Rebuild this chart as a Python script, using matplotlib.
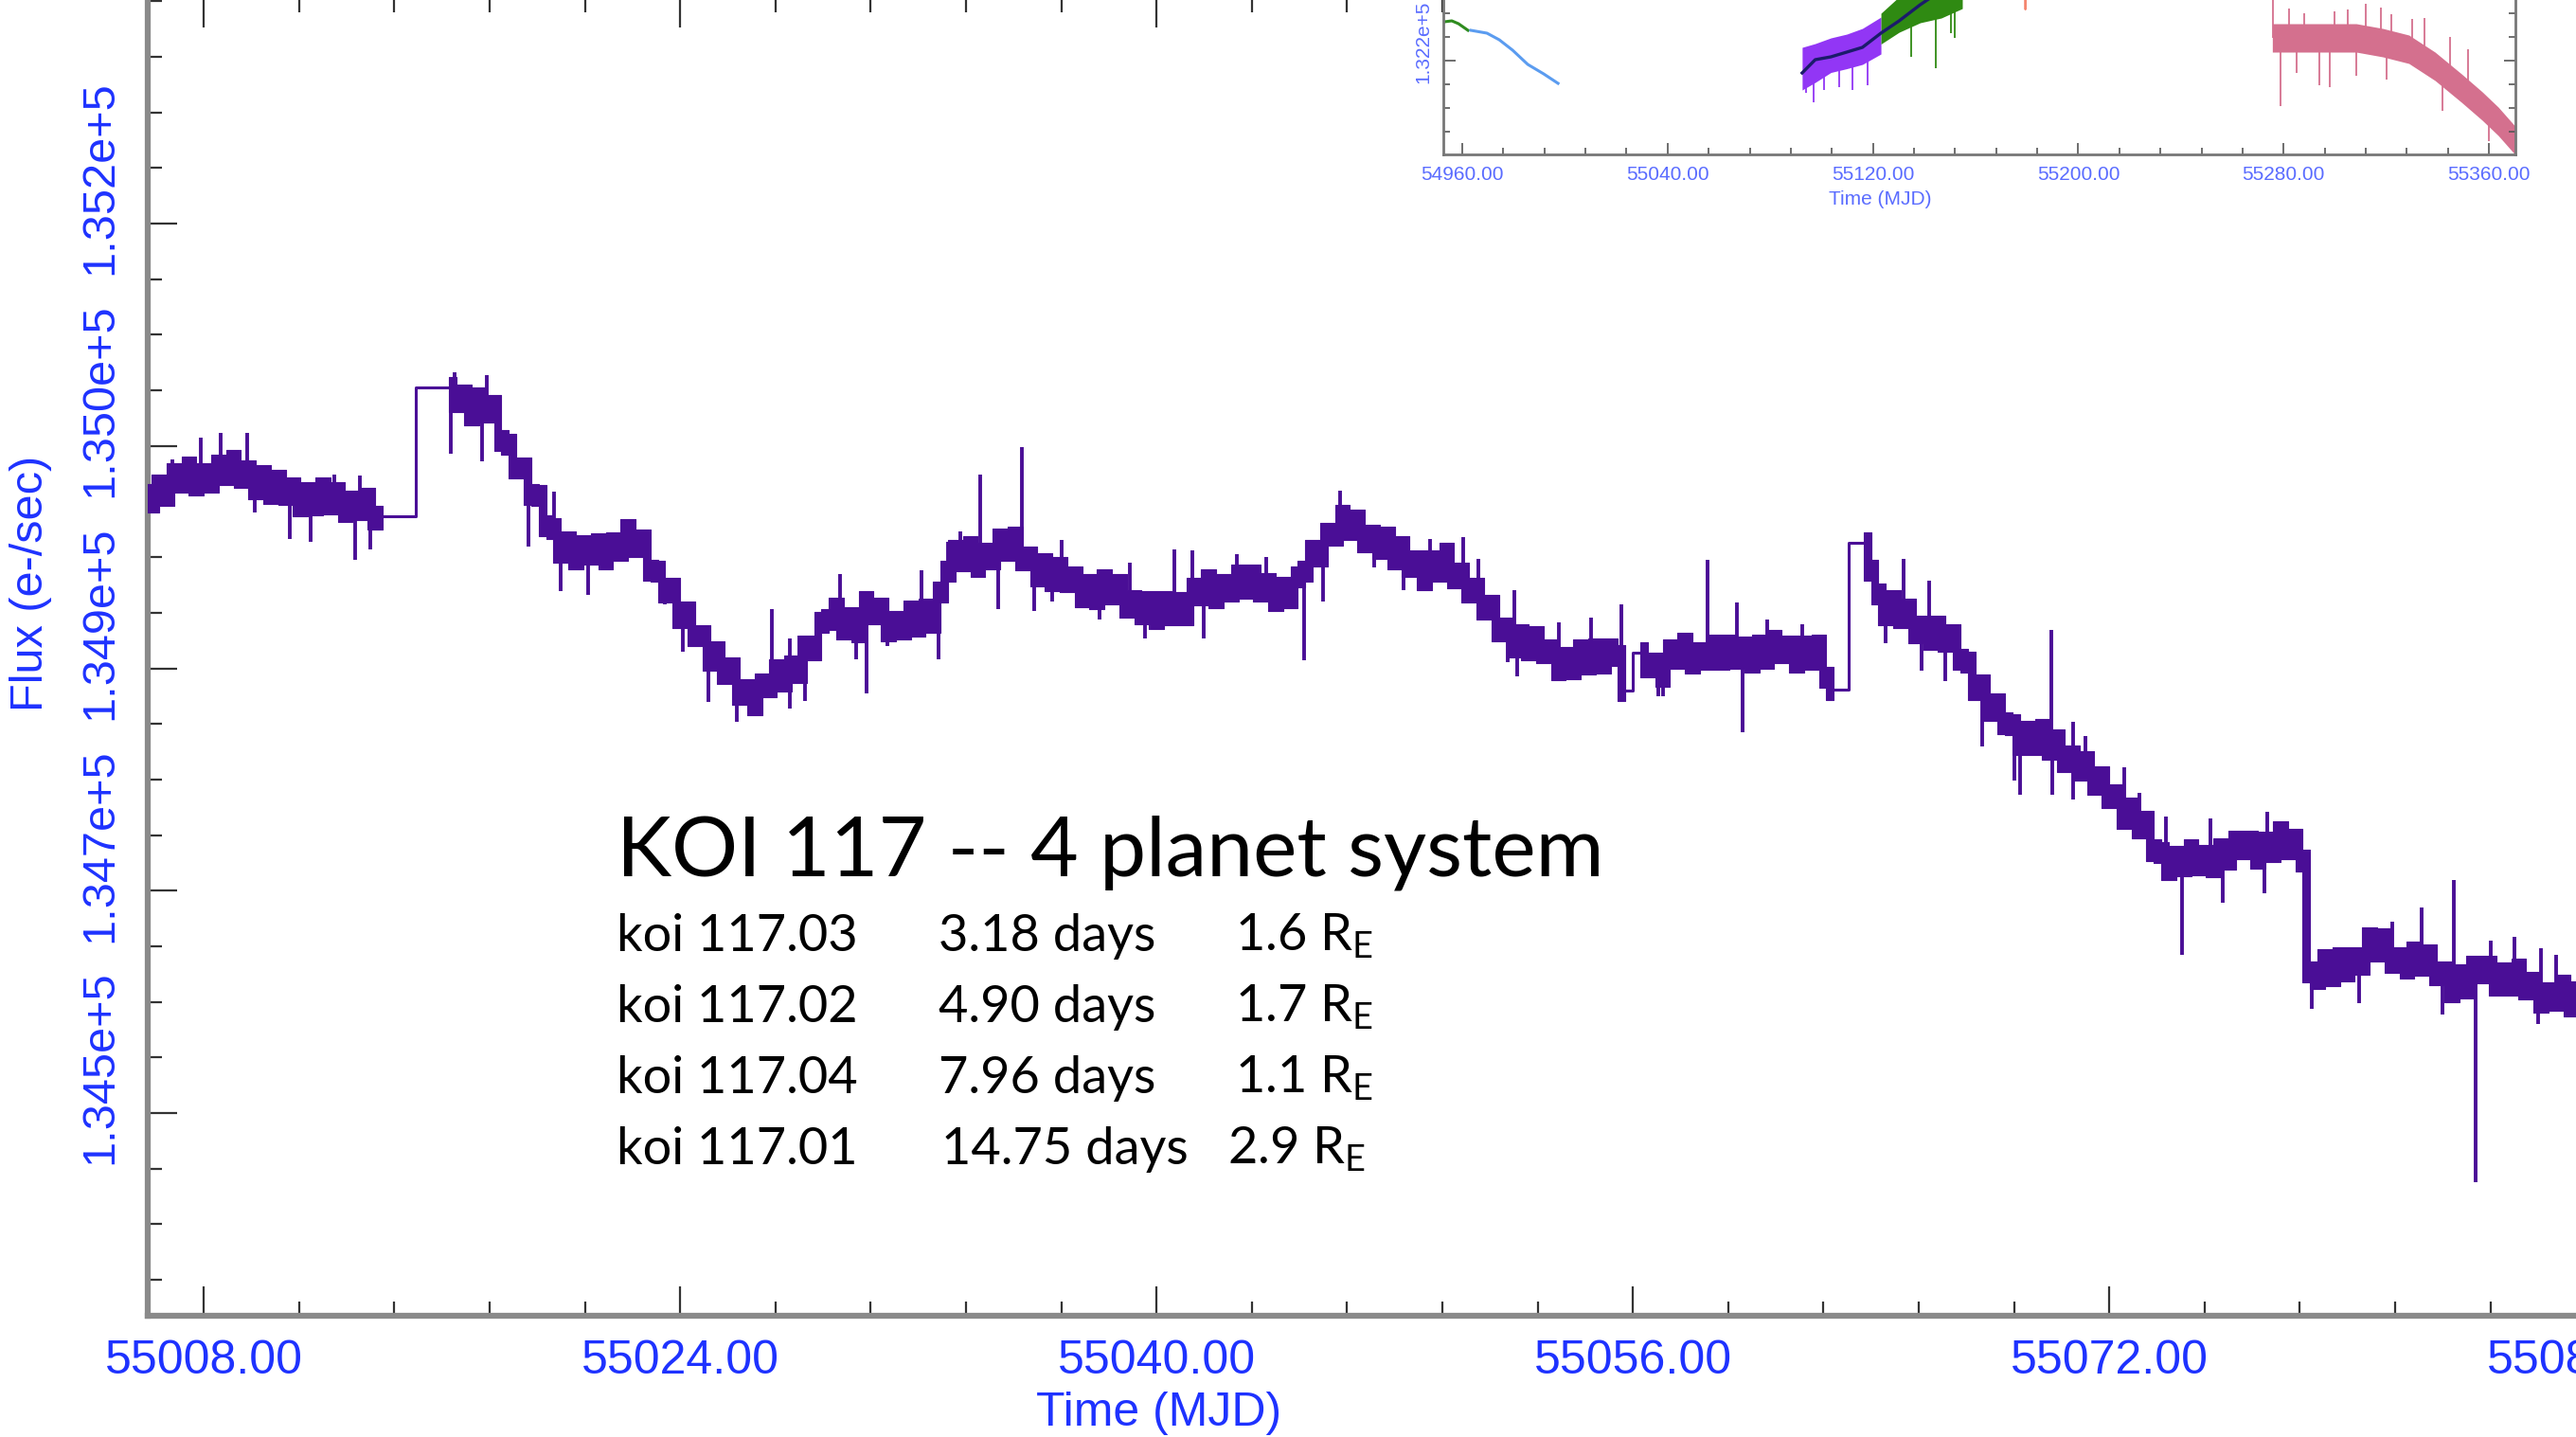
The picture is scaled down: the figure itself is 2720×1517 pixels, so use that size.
import numpy as np
import matplotlib
matplotlib.use("Agg")
import matplotlib.pyplot as plt
import matplotlib.transforms as mtransforms
from matplotlib.ticker import MultipleLocator, FixedLocator, FuncFormatter, NullFormatter

plt.rcParams["mathtext.fontset"] = "custom"
plt.rcParams["mathtext.rm"] = "Lato"
plt.rcParams["mathtext.it"] = "Lato:italic"
plt.rcParams["mathtext.bf"] = "Lato:bold"

# ---------------- main light curve (binned, 0.25 d cadence) ----------------
CADENCE = 0.25
seg_starts = [55006.0, 55016.25, 55056.25, 55063.75]

flux_a = [135003, 134997, 135010, 135002, 135019, 135012, 135024, 135010, 135019,
          135012, 135025, 135018, 135029, 135016, 135021, 135007, 135017, 135004,
          135014, 135003, 135008, 134994, 135004, 134995, 135008, 134996, 135004,
          134990, 134998, 134991, 135000, 134984, 134986]

flux_b = [135085, 135074, 135079, 135064, 135077, 135066, 135071, 135044, 135041,
          135023, 135023, 135003, 135002, 134979, 134977, 134959, 134967, 134954,
          134964, 134957, 134965, 134954, 134966, 134960, 134976, 134963, 134968,
          134945, 134944, 134928, 134931, 134909,
          134913, 134895, 134895, 134876, 134883, 134866, 134870, 134850, 134854,
          134842, 134858, 134856, 134869, 134860, 134872, 134867, 134887, 134884,
          134905, 134907, 134916, 134900, 134909, 134898, 134921, 134912, 134916,
          134899, 134906, 134900, 134914, 134902,
          134915, 134905, 134928, 134944, 134960, 134952, 134963, 134948, 134958,
          134954, 134969, 134960, 134970, 134953, 134955, 134941, 134950, 134937,
          134947, 134936, 134940, 134925, 134934, 134923, 134938, 134927, 134934,
          134917, 134922, 134912, 134921, 134908,
          134921, 134911, 134920, 134911, 134931, 134926, 134938, 134924, 134934,
          134929, 134941, 134931, 134941, 134929, 134935, 134922, 134932, 134924,
          134940, 134944, 134960, 134956, 134973, 134972, 134987, 134976, 134983,
          134967, 134972, 134962, 134970, 134954,
          134963, 134948, 134952, 134938, 134952, 134944, 134958, 134939, 134943,
          134928, 134931, 134915, 134918, 134899, 134901, 134886, 134896, 134884,
          134894, 134882, 134884, 134869, 134878, 134870, 134884, 134873, 134885,
          134874, 134885, 134880, 134853]

flux_c = [134882, 134871, 134874, 134864, 134884, 134878, 134889, 134874, 134882,
          134877, 134888, 134877, 134888, 134878, 134886, 134875, 134888, 134878,
          134891, 134882, 134887, 134875, 134887, 134877, 134888, 134863, 134854]

flux_d = [134966, 134945, 134927, 134911, 134922, 134909, 134915, 134897, 134902,
          134892, 134902, 134891, 134896, 134877, 134875, 134854, 134857, 134838,
          134843, 134828, 134827, 134812, 134822, 134812, 134823, 134808, 134815,
          134799, 134803, 134792, 134799, 134781,
          134787, 134771, 134773, 134755, 134763, 134748, 134753, 134731, 134729,
          134716, 134726, 134719, 134731, 134720, 134727, 134718, 134732, 134724,
          134738, 134732, 134738, 134725, 134737, 134730, 134745, 134732, 134739,
          134723, 134638, 134633, 134647, 134635,
          134649, 134639, 134649, 134644, 134664, 134654, 134663, 134645, 134649,
          134641, 134653, 134643, 134651, 134636, 134638, 134623, 134636, 134626,
          134642, 134637, 134642, 134628, 134637, 134628, 134640, 134625, 134630,
          134615, 134622, 134616, 134628, 134612, 134623, 134611, 134618, 134606]

# single-cadence outliers (upward) and dips (downward), MJD / e-/s
spike_up_time = [55006.96, 55007.90, 55008.56, 55009.45, 55012.40, 55013.25,
                 55016.44, 55017.50, 55018.40, 55019.76, 55022.40, 55027.09,
                 55027.70, 55028.00, 55029.37, 55032.10, 55033.00, 55033.40,
                 55034.07, 55035.47, 55036.80, 55039.10, 55040.60, 55041.20,
                 55042.70, 55043.70, 55046.16, 55049.20, 55050.30, 55050.80,
                 55052.03, 55053.50, 55054.60, 55055.60, 55058.52, 55059.48,
                 55060.50, 55061.70, 55065.09, 55065.94, 55070.05, 55070.80,
                 55071.20, 55072.50, 55073.00, 55073.90, 55075.40, 55077.30,
                 55080.60, 55081.50, 55082.49, 55083.59, 55084.80, 55085.60,
                 55086.50, 55087.00]
spike_up_flux = [135030, 135046, 135050, 135050, 135018, 135017,
                 135096, 135094, 135043, 135005, 134979, 134915,
                 134893, 134895, 134942, 134945, 134967, 134975,
                 135018, 135039, 134968, 134951, 134961, 134960,
                 134957, 134955, 135006, 134969, 134970, 134954,
                 134930, 134905, 134909, 134919, 134953, 134920,
                 134907, 134904, 134954, 134937, 134899, 134829,
                 134818, 134794, 134775, 134757, 134755, 134760,
                 134670, 134676, 134687, 134708, 134662, 134665,
                 134656, 134651]
spike_down_time = [55009.70, 55010.90, 55011.60, 55013.09, 55013.60, 55016.30,
                   55017.36, 55018.90, 55020.00, 55020.90, 55023.50, 55024.10,
                   55024.95, 55025.90, 55027.70, 55028.20, 55029.90, 55030.26,
                   55030.95, 55032.67, 55034.70, 55035.90, 55036.50, 55038.10,
                   55039.60, 55041.60, 55044.96, 55045.60, 55047.30, 55048.30,
                   55051.80, 55052.10, 55056.85, 55057.00, 55059.69, 55064.50,
                   55065.70, 55066.50, 55067.72, 55068.80, 55069.00, 55070.10,
                   55070.80, 55074.46, 55075.80, 55077.20, 55078.80, 55080.40,
                   55083.20, 55084.32, 55086.40]
spike_down_flux = [134989, 134969, 134967, 134953, 134961, 135034,
                   135028, 134963, 134929, 134926, 134919, 134883,
                   134844, 134829, 134839, 134845, 134877, 134851,
                   134887, 134877, 134915, 134914, 134921, 134907,
                   134893, 134893, 134876, 134921, 134947, 134930,
                   134875, 134864, 134849, 134849, 134821, 134889,
                   134868, 134860, 134810, 134784, 134773, 134773,
                   134770, 134651, 134691, 134698, 134610, 134614,
                   134605, 134477, 134598]

y_major_ticks = [134530, 134700, 134870, 135040, 135210]

# ---------------- inset: full quarter overview ----------------
ins_green_t = [54952.6, 54953.0, 54955.9, 54958.5, 54962.2]
ins_green_f = [132360, 132364, 132368, 132356, 132328]
ins_blue_t = [54963.3, 54969.6, 54974.4, 54979.6, 54985.5, 54991.7, 54997.3]
ins_blue_f = [132328, 132316, 132288, 132244, 132184, 132144, 132104]

ins_purple_t = [55092.4, 55097.5, 55103.6, 55109.8, 55115.9, 55123.1]
ins_purple_hi = [132256, 132272, 132296, 132312, 132336, 132384]
ins_purple_lo = [132076, 132108, 132150, 132166, 132184, 132228]
ins_purple_mid = [132148, 132204, 132216, 132236, 132256, 132316]
ins_purple_spk_t = [55094.0, 55097.0, 55101.0, 55107.0, 55112.0, 55118.0]
ins_purple_spk_f = [132064, 132024, 132076, 132088, 132076, 132096]

ins_green2_t = [55123.1, 55130.2, 55138.4, 55146.6, 55154.8]
ins_green2_hi = [132400, 132470, 132540, 132600, 132660]
ins_green2_lo = [132270, 132320, 132360, 132380, 132420]
ins_green2_mid = [132316, 132368, 132436, 132496, 132556]
ins_green2_spk_t = [55135.0, 55144.5, 55150.5, 55152.0]
ins_green2_spk_f = [132216, 132168, 132316, 132296]

ins_salmon_t = [55156.0, 55170.0, 55179.2, 55179.4, 55179.6, 55190.0]
ins_salmon_f = [132520, 132520, 132520, 132416, 132520, 132520]

ins_pink_t = [55275.6, 55290.0, 55308.3, 55318.6, 55328.8, 55339.0, 55349.3,
              55357.4, 55363.6, 55369.8, 55371.0]
ins_pink_hi = [132356, 132356, 132356, 132336, 132308, 132236, 132144,
               132068, 132004, 131928, 131916]
ins_pink_lo = [132236, 132236, 132236, 132216, 132188, 132116, 132024,
               131948, 131884, 131808, 131796]
ins_pink_spk_t = [55275.8, 55278.7, 55282.0, 55285.0, 55288.0, 55294.0, 55298.0,
                  55300.0, 55305.0, 55308.3, 55312.0, 55318.0, 55320.0, 55322.0,
                  55330.0, 55335.0, 55342.0, 55345.0, 55352.0, 55360.0]
ins_pink_spk_f = [132456, 132008, 132420, 132150, 132400, 132096, 132088,
                  132410, 132416, 132136, 132440, 132424, 132120, 132396,
                  132376, 132380, 131990, 132300, 132250, 131860]

# ---------------- planet table ----------------
title_text = "KOI 117 -- 4 planet system"
koi_names = ["koi 117.03", "koi 117.02", "koi 117.04", "koi 117.01"]
koi_periods = [3.18, 4.90, 7.96, 14.75]
koi_radii = [1.6, 1.7, 1.1, 2.9]

# ---------------- figure ----------------
W, H, DPI = 2720, 1517, 100
fig = plt.figure(figsize=(W / DPI, H / DPI), dpi=DPI)
fig.patch.set_facecolor("white")


def px_box(left, top, right, bottom):
    return [left / W, 1 - bottom / H, (right - left) / W, (bottom - top) / H]


BLUE = "#1e32ff"
CURVE = "#4a0e96"
TICKFONT = "Liberation Sans"
BAND_PAD = 8.0  # extra half-thickness of the scatter band, e-/s

ax = fig.add_axes(px_box(156, -2, 2793, 1389))
ax.set_xlim(55006.12, 55090.0)
ax.set_ylim(134375.1, 135382.3)

segments = []
for start, flux in zip(seg_starts, [flux_a, flux_b, flux_c, flux_d]):
    f = np.asarray(flux, dtype=float)
    t = start + CADENCE * np.arange(len(f))
    segments.append((t, f))

# each cadence interval is filled between its two end samples -> scatter band
for t, f in segments:
    nxt = np.append(f[1:], f[-1])
    lo = np.minimum(f, nxt) - BAND_PAD
    hi = np.maximum(f, nxt) + BAND_PAD
    ax.fill_between(t, lo, hi, step="post", color=CURVE, lw=0.8,
                    edgecolor=CURVE, zorder=3)
# data gaps are bridged with a mid-point step
for (t0, f0), (t1, f1) in zip(segments[:-1], segments[1:]):
    ax.step([t0[-1], t1[0]], [f0[-1], f1[0]], where="mid", color=CURVE, lw=2.2, zorder=3)

all_t = np.concatenate([s[0] for s in segments])
all_f = np.concatenate([s[1] for s in segments])
ax.vlines(spike_up_time, np.interp(spike_up_time, all_t, all_f), spike_up_flux,
          color=CURVE, lw=2.8, zorder=3)
ax.vlines(spike_down_time, np.interp(spike_down_time, all_t, all_f), spike_down_flux,
          color=CURVE, lw=2.8, zorder=3)

ax.xaxis.set_major_locator(MultipleLocator(16))
ax.xaxis.set_minor_locator(MultipleLocator(3.2))
ax.xaxis.set_major_formatter(FuncFormatter(lambda v, p: f"{v:.2f}"))
ax.yaxis.set_major_locator(FixedLocator(y_major_ticks))
ax.yaxis.set_minor_locator(FixedLocator(np.arange(y_major_ticks[0] - 3 * 42.5, 135400, 42.5)))
ax.yaxis.set_major_formatter(NullFormatter())

ax.tick_params(which="both", direction="in", top=True, right=True,
               color="#333333", width=1.6)
ax.tick_params(which="major", length=22)
ax.tick_params(which="minor", length=11)
ax.tick_params(axis="x", labelsize=36, labelcolor=BLUE, pad=18)
for lab in ax.get_xticklabels():
    lab.set_fontfamily(TICKFONT)

# rotated flux labels sit a little above their ticks
ylab_tf = (mtransforms.blended_transform_factory(ax.transAxes, ax.transData)
           + mtransforms.ScaledTranslation(0, 48 / DPI, fig.dpi_scale_trans))
for v in y_major_ticks:
    ax.text(-50 / 2637, v, f"{v:.3e}".replace("e+0", "e+"), transform=ylab_tf,
            rotation=90, ha="center", va="center", fontsize=35, color=BLUE,
            family=TICKFONT, clip_on=False)

for side in ("left", "bottom"):
    ax.spines[side].set_linewidth(4.5)
    ax.spines[side].set_color("#8a8a8a")
for side in ("top", "right"):
    ax.spines[side].set_linewidth(1.5)
    ax.spines[side].set_color("#8a8a8a")

fig.text(33 / W, 1 - 616 / H, "Flux (e-/sec)", rotation=90, ha="center", va="center",
         fontsize=35, color=BLUE, family=TICKFONT)
fig.text(1224 / W, 1 - 1505 / H, "Time (MJD)", ha="center", va="baseline",
         fontsize=36, color=BLUE, family=TICKFONT)

# ---------------- inset ----------------
axi = fig.add_axes(px_box(1524, -60, 2656, 163))
axi.set_xlim(54952.6, 55370.3)
axi.set_ylim(131804, 132696)

axi.plot(ins_green_t, ins_green_f, color="#2e8b1e", lw=2.2)
axi.plot(ins_blue_t, ins_blue_f, color="#5b9cf0", lw=2.2)

PURPLE = "#9236f5"
axi.fill_between(ins_purple_t, ins_purple_lo, ins_purple_hi, color=PURPLE, lw=0)
axi.vlines(ins_purple_spk_t, np.interp(ins_purple_spk_t, ins_purple_t, ins_purple_lo),
           ins_purple_spk_f, color=PURPLE, lw=1.3)

GREEN = "#2f8a12"
axi.fill_between(ins_green2_t, ins_green2_lo, ins_green2_hi, color=GREEN, lw=0)
axi.vlines(ins_green2_spk_t, np.interp(ins_green2_spk_t, ins_green2_t, ins_green2_lo),
           ins_green2_spk_f, color=GREEN, lw=1.3)

axi.plot(ins_purple_t + ins_green2_t[1:], ins_purple_mid + ins_green2_mid[1:],
         color="#1b1b6b", lw=2.4)

axi.plot(ins_salmon_t, ins_salmon_f, color="#f4866f", lw=1.5)

PINK = "#d4708e"
axi.fill_between(ins_pink_t, ins_pink_lo, ins_pink_hi, color=PINK, lw=0)
pink_mid = (np.asarray(ins_pink_lo) + np.asarray(ins_pink_hi)) / 2
axi.vlines(ins_pink_spk_t, np.interp(ins_pink_spk_t, ins_pink_t, pink_mid),
           ins_pink_spk_f, color=PINK, lw=1.3)

axi.xaxis.set_major_locator(MultipleLocator(80))
axi.xaxis.set_minor_locator(MultipleLocator(16))
axi.xaxis.set_major_formatter(FuncFormatter(lambda v, p: f"{v:.2f}"))
axi.yaxis.set_major_locator(FixedLocator([132200]))
axi.yaxis.set_minor_locator(MultipleLocator(100))
axi.yaxis.set_major_formatter(NullFormatter())
axi.tick_params(which="both", direction="in", top=True, right=True,
                color="#555555", width=1.2)
axi.tick_params(which="major", length=9)
axi.tick_params(which="minor", length=5)
axi.tick_params(axis="x", labelsize=15, labelcolor="#5a6cff", pad=9)
for lab in axi.get_xticklabels():
    lab.set_fontfamily(TICKFONT)
for side in ("left", "bottom", "right", "top"):
    axi.spines[side].set_linewidth(2.0)
    axi.spines[side].set_color("#777777")

fig.text(1503 / W, 1 - 44 / H, "1.322e+5", rotation=90, ha="center", va="center",
         fontsize=15, color="#5a6cff", family=TICKFONT)
fig.text(1985 / W, 1 - 210 / H, "Time (MJD)", ha="center", va="center",
         fontsize=15, color="#5a6cff", family=TICKFONT)

# ---------------- planet table text ----------------
TEXTFONT = "Lato"
fig.text(651 / W, 1 - 925 / H, title_text, ha="left", va="baseline",
         fontsize=63, color="black", family=TEXTFONT)

row_baselines = [1004, 1079, 1154, 1229]
for i, (name, per, rad) in enumerate(zip(koi_names, koi_periods, koi_radii)):
    yb = 1 - row_baselines[i] / H
    x2 = 994 if per >= 10 else 991
    x3 = 1296 if rad >= 2 else 1304
    fig.text(651 / W, yb, name, ha="left", va="baseline", fontsize=39,
             color="black", family=TEXTFONT)
    fig.text(x2 / W, yb, f"{per:.2f} days", ha="left", va="baseline", fontsize=39,
             color="black", family=TEXTFONT)
    fig.text(x3 / W, yb, f"{rad:.1f} R$_{{\\rm E}}$", ha="left", va="baseline",
             fontsize=39, color="black", family=TEXTFONT)

fig.savefig("out.png", dpi=DPI, facecolor="white")
